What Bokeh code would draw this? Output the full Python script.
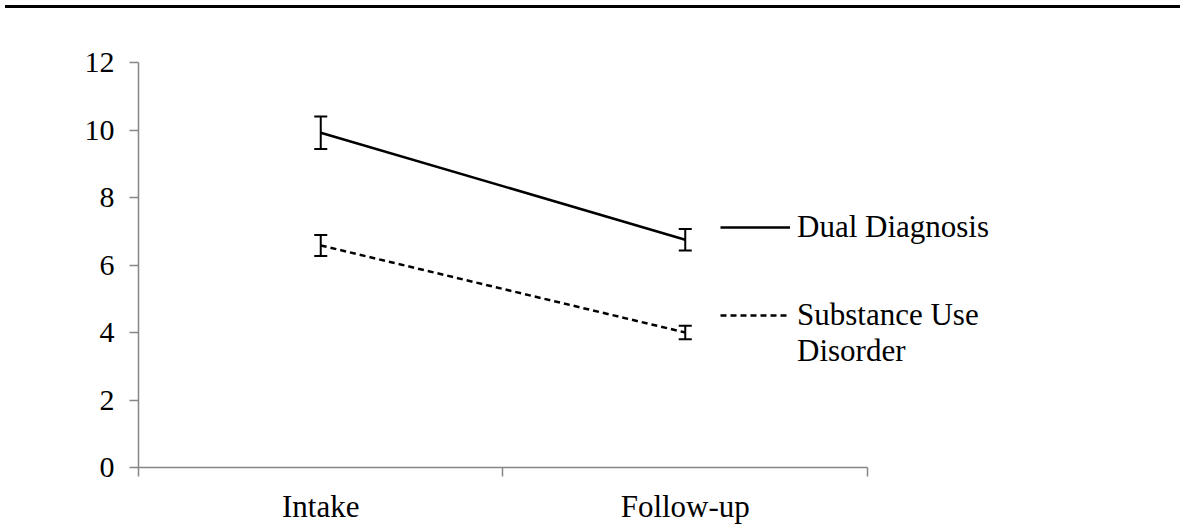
from bokeh.plotting import figure
from bokeh.models import (ColumnDataSource, Range1d, FixedTicker, Whisker, TeeHead,
                          Legend, LegendItem, Div)
from bokeh.layouts import column
from bokeh.embed import file_html
from bokeh.resources import INLINE

# ---- data ----
timepoints = ["Intake", "Follow-up"]
dual_mean = [9.92, 6.75]
dual_err = [0.48, 0.32]
sud_mean = [6.58, 4.00]
sud_err = [0.31, 0.20]
y_ticks = [0, 2, 4, 6, 8, 10, 12]
series_labels = ["Dual Diagnosis", "Substance Use", "Disorder"]

FONT = "Liberation Serif"
GRAY = "#868686"

xs = [i + 0.5 for i in range(len(timepoints))]
bounds_x = [float(i) for i in range(len(timepoints) + 1)]

dual_src = ColumnDataSource(dict(
    x=xs, y=dual_mean,
    lower=[m - e for m, e in zip(dual_mean, dual_err)],
    upper=[m + e for m, e in zip(dual_mean, dual_err)]))
sud_src = ColumnDataSource(dict(
    x=xs, y=sud_mean,
    lower=[m - e for m, e in zip(sud_mean, sud_err)],
    upper=[m + e for m, e in zip(sud_mean, sud_err)]))

p = figure(frame_width=1037, frame_height=405, output_backend="svg",
           toolbar_location=None,
           x_range=Range1d(0, 2.845), y_range=Range1d(0, 12),
           min_border_left=138, min_border_right=0, min_border_top=49,
           min_border_bottom=50)
p.outline_line_color = None
p.grid.visible = False
p.background_fill_color = "white"
p.border_fill_color = "white"

# y axis
ya = p.yaxis[0]
ya.ticker = FixedTicker(ticks=y_ticks)
ya.axis_line_color = GRAY
ya.axis_line_width = 1.5
ya.major_tick_line_color = GRAY
ya.major_tick_line_width = 1.5
ya.major_tick_out = 9
ya.major_tick_in = 0
ya.minor_tick_out = 0
ya.minor_tick_in = 0
ya.major_label_text_font = FONT
ya.major_label_text_font_size = "30px"
ya.major_label_text_color = "black"
ya.major_label_standoff = 15

# x axis: category labels between ticks
xa = p.xaxis[0]
xa.ticker = FixedTicker(ticks=xs, minor_ticks=bounds_x)
xa.major_label_overrides = {x: t for x, t in zip(xs, timepoints)}
xa.bounds = (bounds_x[0], bounds_x[-1])
xa.axis_line_color = GRAY
xa.axis_line_width = 1.5
xa.major_tick_out = 0
xa.major_tick_in = 0
xa.minor_tick_out = 9
xa.minor_tick_in = 0
xa.minor_tick_line_color = GRAY
xa.minor_tick_line_width = 1.5
xa.major_label_text_font = FONT
xa.major_label_text_font_size = "31px"
xa.major_label_text_color = "black"
xa.major_label_standoff = 12

# data lines
r_dual = p.line("x", "y", source=dual_src, line_color="black", line_width=2.5)
r_sud = p.line("x", "y", source=sud_src, line_color="black", line_width=2.5,
               line_dash="6 4")
r_blank = p.line(x=[], y=[], line_alpha=0)

for src in (dual_src, sud_src):
    w = Whisker(source=src, base="x", upper="upper", lower="lower",
                line_color="black", line_width=2,
                upper_head=TeeHead(size=13, line_color="black", line_width=2),
                lower_head=TeeHead(size=13, line_color="black", line_width=2))
    p.add_layout(w)

legend_kw = dict(orientation="vertical", glyph_width=70, glyph_height=34,
                 label_height=34, label_standoff=7, spacing=0, padding=0,
                 margin=0, border_line_color=None, background_fill_alpha=0,
                 label_text_font=FONT, label_text_font_size="31px",
                 label_text_color="black")

legend_a = Legend(items=[LegendItem(label=series_labels[0], renderers=[r_dual])],
                  location=(582, 222), **legend_kw)
legend_b = Legend(items=[LegendItem(label=series_labels[1], renderers=[r_sud]),
                         LegendItem(label=series_labels[2], renderers=[r_blank])],
                  location=(582, 98), **legend_kw)
p.add_layout(legend_a, "center")
p.add_layout(legend_b, "center")

top_rule = Div(text="", width=1175, height=3,
               styles={"background-color": "black"})

layout = column(top_rule, p, spacing=0)
open("out.html", "w").write(file_html(layout, INLINE))
